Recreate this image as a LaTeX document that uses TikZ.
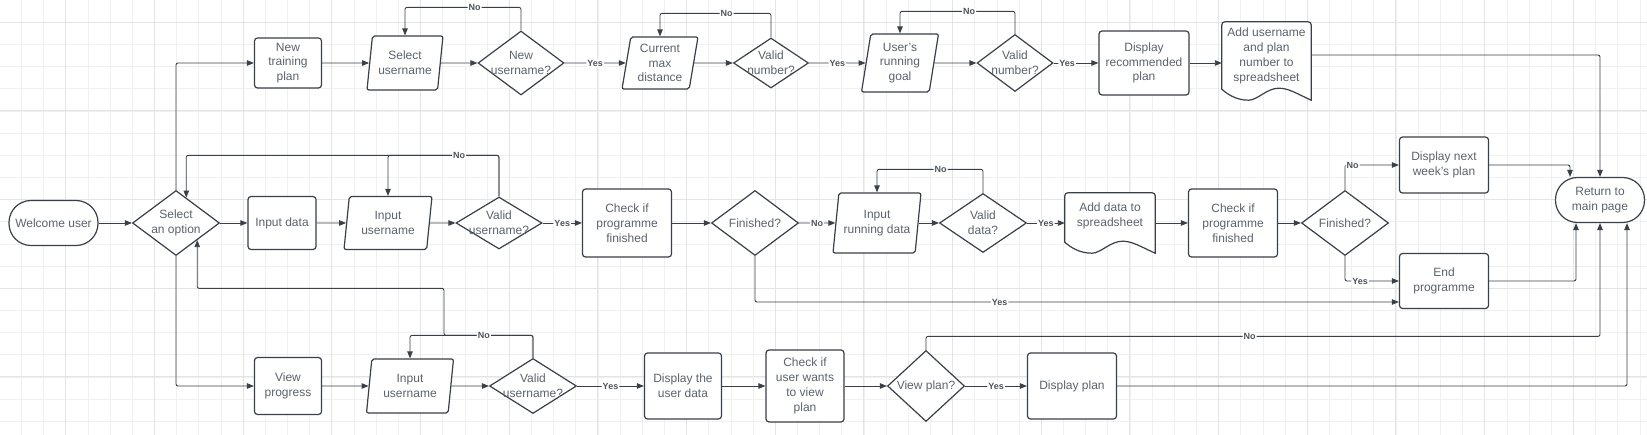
\documentclass[tikz,border=0pt]{standalone}
\usepackage{fontspec}
\setmainfont{Liberation Sans}
\usepackage{tikz}
\usetikzlibrary{arrows.meta, shapes.geometric, calc}

\definecolor{linec}{HTML}{3A4048}
\definecolor{txtc}{HTML}{5C636D}
\definecolor{lblc}{HTML}{4E545C}
\definecolor{gridmin}{HTML}{F0F0F0}
\definecolor{gridmaj}{HTML}{E4E4E4}

\tikzset{
  shp/.style={draw=linec, line width=1.2pt, fill=white},
  ntext/.style={text=txtc, align=center, font=\fontsize{12}{14.8}\selectfont, inner sep=0pt},
  proc/.style={shp, ntext, rectangle, rounded corners=3pt},
  term/.style={shp, ntext, rectangle, rounded corners=22pt},
  io/.style={shp, ntext, trapezium, trapezium left angle=77, trapezium right angle=103,
    trapezium stretches body, rounded corners=2pt},
  decision/.style={shp, diamond, inner sep=0pt},
  docbox/.style={rectangle, inner sep=0pt},
  conn/.style={draw=linec, line width=0.9pt, rounded corners=2pt, ->},
  lbl/.style={fill=white, text=lblc, font=\fontsize{9}{10}\selectfont\bfseries, inner sep=1pt},
}

% outline of a document shape drawn round a docbox node
\newcommand{\docoutline}[1]{%
  \draw[shp] let \p1=(#1.south west), \p2=(#1.north east), \n1={\x2-\x1} in
    ({\x1},{\y1+11pt}) [rounded corners=3pt] -- ({\x1},{\y2}) -- ({\x2},{\y2}) [sharp corners] -- ({\x2},{\y1})
    .. controls ({\x2-0.15*\n1},{\y1+6pt}) and ({\x2-0.25*\n1},{\y1+12pt}) .. ({\x2-0.36*\n1},{\y1+12pt})
    .. controls ({\x1+0.5*\n1},{\y1+12pt}) and ({\x1+0.4*\n1},{\y1}) .. ({\x1+0.3*\n1},{\y1})
    .. controls ({\x1+0.15*\n1},{\y1}) and ({\x1+0.05*\n1},{\y1+7pt}) .. ({\x1},{\y1+11pt}) -- cycle;}

\begin{document}
\begin{tikzpicture}[x=1pt, y=-1pt, >={Triangle[length=7pt, width=5.5pt]}]
    % 1. Background grid
    \useasboundingbox (0,0) rectangle (1647,435);
    \fill[white] (0,0) rectangle (1647,435);
    \foreach \i in {0,...,73} {
        \draw[gridmin, line width=0.8pt] ({21.5+22.17*\i},0) -- ({21.5+22.17*\i},435);
    }
    \foreach \j in {0,...,18} {
        \draw[gridmin, line width=0.8pt] (0,{22.3+22.17*\j}) -- (1647,{22.3+22.17*\j});
    }
    \foreach \i in {0,...,17} {
        \draw[gridmaj, line width=1pt] ({65.7+88.67*\i},0) -- ({65.7+88.67*\i},435);
    }
    \foreach \j in {0,...,4} {
        \draw[gridmaj, line width=1pt] (0,{22.3+88.67*\j}) -- (1647,{22.3+88.67*\j});
    }

    % 2. Top row: new training plan
    \node[proc, minimum width=67, minimum height=50] (ntp) at (288,63) {New\\training\\plan};
    \node[io, minimum width=76, minimum height=54] (selu) at (405,63) {Select\\username};
    \node[decision, minimum width=86, minimum height=64, label={[ntext]center:New\\username?}] (newu) at (521,63) {};
    \node[io, minimum width=76, minimum height=52] (cmd) at (660,63) {Current\\max\\distance};
    \node[decision, minimum width=75, minimum height=50, label={[ntext]center:Valid\\number?}] (vn1) at (771,63) {};
    \node[io, minimum width=77, minimum height=58] (goal) at (900,63) {User's\\running\\goal};
    \node[decision, minimum width=76, minimum height=57, label={[ntext]center:Valid\\number?}] (vn2) at (1015,63) {};
    \node[proc, minimum width=90, minimum height=64] (drp) at (1144,63) {Display\\recommended\\plan};
    \node[docbox, minimum width=89, minimum height=78] (addu) at (1266.5,61) {};
    \docoutline{addu}
    \node[ntext, yshift=5pt] (addutext) at (addu) {Add username\\and plan\\number to\\spreadsheet};

    % 3. Middle row: input data
    \node[term, minimum width=89, minimum height=45] (wel) at (53.5,223) {Welcome user};
    \node[decision, minimum width=87, minimum height=65, label={[ntext]center:Select\\an option}] (sel) at (176,223) {};
    \node[proc, minimum width=68, minimum height=53] (ind) at (282,223) {Input data};
    \node[io, minimum width=88, minimum height=53] (inu) at (388,223) {Input\\username};
    \node[decision, minimum width=86, minimum height=52, label={[ntext]center:Valid\\username?}] (vu1) at (499,223) {};
    \node[proc, minimum width=89, minimum height=68] (chk1) at (627,223) {Check if\\programme\\finished};
    \node[decision, minimum width=87, minimum height=65, label={[ntext]center:Finished?}] (fin1) at (755,223) {};
    \node[io, minimum width=88, minimum height=60] (ird) at (877,223) {Input\\running data};
    \node[decision, minimum width=87, minimum height=59, label={[ntext]center:Valid\\data?}] (vd) at (983,223) {};
    \node[docbox, minimum width=90, minimum height=60] (addd) at (1110,223) {};
    \docoutline{addd}
    \node[ntext, yshift=7pt] (adddtext) at (addd) {Add data to\\spreadsheet};
    \node[proc, minimum width=89, minimum height=68] (chk2) at (1233,223) {Check if\\programme\\finished};
    \node[decision, minimum width=87, minimum height=65, label={[ntext]center:Finished?}] (fin2) at (1345,223) {};
    \node[proc, minimum width=89, minimum height=56] (nwp) at (1444,165) {Display next\\week's plan};
    \node[proc, minimum width=89, minimum height=55] (endp) at (1444,281) {End\\programme};
    \node[term, minimum width=89, minimum height=45] (ret) at (1600,200) {Return to\\main page};

    % 4. Bottom row: view progress
    \node[proc, minimum width=67, minimum height=57] (vp) at (288,386) {View\\progress};
    \node[io, minimum width=87, minimum height=54] (inu2) at (410,386) {Input\\username};
    \node[decision, minimum width=87, minimum height=55, label={[ntext]center:Valid\\username?}] (vu2) at (533,386) {};
    \node[proc, minimum width=77, minimum height=66] (dud) at (683,386) {Display the\\user data};
    \node[proc, minimum width=78, minimum height=72] (cwv) at (805,386) {Check if\\user wants\\to view\\plan};
    \node[decision, minimum width=77, minimum height=71, label={[ntext]center:View plan?}] (vwp) at (926,386) {};
    \node[proc, minimum width=89, minimum height=66] (dp) at (1072,386) {Display plan};

    % 5. Connectors, top row
    \draw[conn] (sel.north) |- (ntp.west);
    \draw[conn] (ntp) -- (selu);
    \draw[conn] (selu) -- (newu);
    \draw[conn] (newu.north) -- ++(0,-23) -| (selu.north) node[lbl, pos=0.2] {No};
    \draw[conn] (newu) -- (cmd) node[lbl, midway] {Yes};
    \draw[conn] (cmd) -- (vn1);
    \draw[conn] (vn1.north) -- ++(0,-24) -| (cmd.north) node[lbl, pos=0.2] {No};
    \draw[conn] (vn1) -- (goal) node[lbl, midway] {Yes};
    \draw[conn] (goal) -- (vn2);
    \draw[conn] (vn2.north) -- ++(0,-22.5) -| (goal.north) node[lbl, pos=0.2] {No};
    \draw[conn] (vn2) -- (drp) node[lbl, pos=0.3] {Yes};
    \draw[conn] (drp) -- (drp -| addu.west);
    \draw[conn] ([yshift=6pt]addu.east) -| (ret.north);

    % 6. Connectors, middle row
    \draw[conn] (wel) -- (sel);
    \draw[conn] (sel) -- (ind);
    \draw[conn] (ind) -- (inu);
    \draw[conn] (inu) -- (vu1);
    \draw[conn] (vu1.north) -- ++(0,-41) -| (sel.68);
    \draw[conn] (vu1.north) -- ++(0,-41) -| (inu.north) node[lbl, pos=0.18] {No};
    \draw[conn] (vu1) -- (chk1) node[lbl, midway] {Yes};
    \draw[conn] (chk1) -- (fin1);
    \draw[conn] (fin1) -- (ird) node[lbl, midway] {No};
    \draw[conn] (ird) -- (vd);
    \draw[conn] (vd.north) -- ++(0,-23.5) -| (ird.north) node[lbl, pos=0.2] {No};
    \draw[conn] (vd) -- (addd) node[lbl, midway] {Yes};
    \draw[conn] (addd) -- (chk2);
    \draw[conn] (chk2) -- (fin2);
    \draw[conn] (fin2.north) |- (nwp.west) node[lbl, pos=0.57] {No};
    \draw[conn] (fin2.south) |- (endp.west) node[lbl, pos=0.64] {Yes};
    \draw[conn] (fin1.south) |- ([yshift=-21pt]endp.west) node[lbl, pos=0.69] {Yes};
    \draw[conn] (nwp.east) -| ([xshift=-30pt]ret.north);
    \draw[conn] (endp.east) -| ([xshift=-24pt]ret.south);

    % 7. Connectors, bottom row
    \draw[conn] (sel.south) |- (vp.west);
    \draw[conn] (vp) -- (inu2);
    \draw[conn] (inu2) -- (vu2);
    \draw[conn] (vu2.north) -- ++(0,-22.5) -- ++(-89,0) -- ++(0,-47) -| (sel.-39);
    \draw[conn] (vu2.north) -- ++(0,-22.5) -| (inu2.north) node[lbl, pos=0.2] {No};
    \draw[conn] (vu2) -- (dud) node[lbl, midway] {Yes};
    \draw[conn] (dud) -- (cwv);
    \draw[conn] (cwv) -- (vwp);
    \draw[conn] (vwp.north) -- ++(0,-13.5) -| (ret.south) node[lbl, pos=0.24] {No};
    \draw[conn] (vwp) -- (dp) node[lbl, midway] {Yes};
    \draw[conn] (dp.east) -| ([xshift=27pt]ret.south);
\end{tikzpicture}
\end{document}
